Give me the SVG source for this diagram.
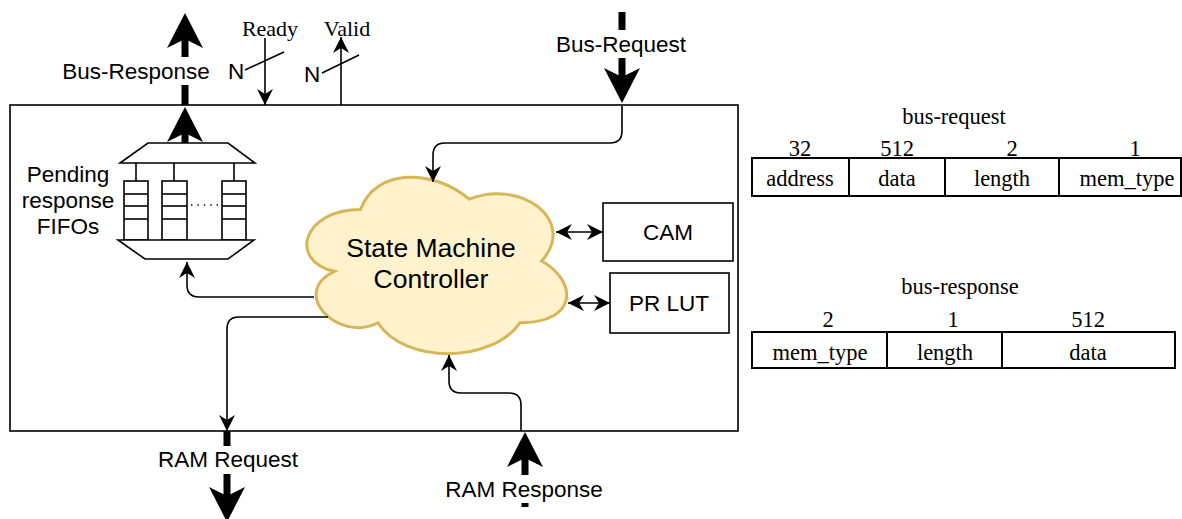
<svg xmlns="http://www.w3.org/2000/svg" width="1182" height="519" viewBox="0 0 1182 519">
  <style>
    .sans { font-family: "Liberation Sans", Arial, sans-serif; font-size: 22.5px; fill: #000; text-anchor: middle; }
    .serif { font-family: "Liberation Serif", "Times New Roman", serif; font-size: 22.5px; fill: #000; text-anchor: middle; }
    .box { fill: #fff; stroke: #000; stroke-width: 1.6; }
    .thin { fill: none; stroke: #000; stroke-width: 1.6; }
    .thick { fill: none; stroke: #000; stroke-width: 7; }
    .bg { fill: #fff; stroke: none; }
    .cell { fill: #fff; stroke: #000; stroke-width: 2; }
  </style>
  <defs>
    <!-- large notched arrowhead for the bus / RAM ports -->
    <marker id="bigHead" viewBox="-36 -18 36 36" markerWidth="36" markerHeight="36" refX="-26" refY="0" markerUnits="userSpaceOnUse" orient="auto">
      <path d="M0,0 L-35,-18 L-26,0 L-35,18 Z" fill="#000"/>
    </marker>
    <!-- small notched arrowhead for internal signals -->
    <marker id="smallHead" viewBox="-16 -8 16 16" markerWidth="16" markerHeight="16" refX="0" refY="0" markerUnits="userSpaceOnUse" orient="auto-start-reverse">
      <path d="M0,0 L-16,-8 L-11,0 L-16,8 Z" fill="#000"/>
    </marker>
  </defs>

  <!-- controller enclosure -->
  <g id="controller-box">
    <rect class="box" x="10" y="105" width="728" height="326"/>
  </g>

  <!-- pending response FIFOs -->
  <g id="fifos">
    <polygon class="box" points="148,143 228,143 255,163 120,163"/>
    <line class="thin" x1="136" y1="163" x2="136" y2="181"/>
    <line class="thin" x1="174" y1="163" x2="174" y2="181"/>
    <line class="thin" x1="234" y1="163" x2="234" y2="181"/>
    <g class="thin">
      <rect x="124" y="181" width="24" height="59"/>
      <line x1="124" y1="194" x2="148" y2="194"/>
      <line x1="124" y1="206" x2="148" y2="206"/>
      <line x1="124" y1="219" x2="148" y2="219"/>
      <rect x="162" y="181" width="25" height="59"/>
      <line x1="162" y1="194" x2="187" y2="194"/>
      <line x1="162" y1="206" x2="187" y2="206"/>
      <line x1="162" y1="219" x2="187" y2="219"/>
      <rect x="222" y="181" width="24" height="59"/>
      <line x1="222" y1="194" x2="246" y2="194"/>
      <line x1="222" y1="206" x2="246" y2="206"/>
      <line x1="222" y1="219" x2="246" y2="219"/>
    </g>
    <line x1="191" y1="205" x2="220" y2="205" stroke="#000" stroke-width="1.4" stroke-dasharray="1.4 5"/>
    <polygon class="box" points="118,240 254,240 228,259 145,259"/>
    <text class="sans" x="68" y="182">Pending</text>
    <text class="sans" x="68" y="208">response</text>
    <text class="sans" x="68" y="234">FIFOs</text>
  </g>

  <!-- state machine controller -->
  <g id="state-machine">
    <path d="M360.5,209.5 C302.5,209.5 288,261 334.4,271.3 C288,294 340.2,343.4 377.9,322.8 C404,364 491,364 520,322.8 C578,322.8 578,281.6 541.75,261 C578,219.8 520,178.6 469.25,199.2 C433,168.3 375,168.3 360.5,209.5 Z" fill="#fff2cc" stroke="#d6b656" stroke-width="3"/>
    <text class="sans" style="font-size:26.5px" x="431" y="257">State Machine</text>
    <text class="sans" style="font-size:26.5px" x="431" y="288">Controller</text>
  </g>

  <!-- CAM -->
  <g id="cam">
    <rect class="box" x="603" y="203" width="130" height="58"/>
    <text class="sans" x="668" y="240">CAM</text>
  </g>

  <!-- PR LUT -->
  <g id="pr-lut">
    <rect class="box" x="610" y="273" width="119" height="60"/>
    <text class="sans" x="669" y="311">PR LUT</text>
  </g>

  <!-- packet formats -->
  <g id="bus-request-format">
    <text class="serif" x="954" y="124">bus-request</text>
    <text class="serif" x="800" y="156">32</text>
    <text class="serif" x="897" y="156">512</text>
    <text class="serif" x="1012" y="156">2</text>
    <text class="serif" x="1135" y="156">1</text>
    <rect class="cell" x="752" y="158" width="97" height="38"/>
    <rect class="cell" x="849" y="158" width="96" height="38"/>
    <rect class="cell" x="945" y="158" width="114" height="38"/>
    <rect class="cell" x="1059" y="158" width="122" height="38"/>
    <text class="serif" x="800" y="186">address</text>
    <text class="serif" x="897" y="186">data</text>
    <text class="serif" x="1002" y="186">length</text>
    <text class="serif" x="1127" y="186">mem_type</text>
  </g>

  <g id="bus-response-format">
    <text class="serif" x="960" y="294">bus-response</text>
    <text class="serif" x="828" y="327">2</text>
    <text class="serif" x="953" y="327">1</text>
    <text class="serif" x="1088" y="327">512</text>
    <rect class="cell" x="752" y="332" width="135" height="36"/>
    <rect class="cell" x="887" y="332" width="115" height="36"/>
    <rect class="cell" x="1002" y="332" width="173" height="36"/>
    <text class="serif" x="820" y="360">mem_type</text>
    <text class="serif" x="945" y="360">length</text>
    <text class="serif" x="1088" y="360">data</text>
  </g>

  <!-- connectors -->
  <g id="connectors">
    <!-- external bus ports -->
    <line class="thick" x1="185" y1="105" x2="185" y2="39" marker-end="url(#bigHead)"/>
    <rect class="bg" x="60" y="57" width="153" height="28"/>
    <text class="sans" x="136" y="79">Bus-Response</text>

    <line class="thick" x1="185" y1="143" x2="185" y2="133" marker-end="url(#bigHead)"/>

    <line class="thick" x1="622" y1="12" x2="622" y2="77" marker-end="url(#bigHead)"/>
    <rect class="bg" x="550" y="30" width="142" height="28"/>
    <text class="sans" x="621" y="52">Bus-Request</text>

    <line class="thick" x1="227" y1="431" x2="227" y2="496" marker-end="url(#bigHead)"/>
    <rect class="bg" x="154" y="446" width="148" height="28"/>
    <text class="sans" x="228" y="467">RAM Request</text>

    <line class="thick" x1="525" y1="507" x2="525" y2="458" marker-end="url(#bigHead)"/>
    <rect class="bg" x="441" y="475" width="166" height="28"/>
    <text class="sans" x="524" y="497">RAM Response</text>

    <!-- handshake signals -->
    <line class="thin" x1="265" y1="38" x2="265" y2="105" marker-end="url(#smallHead)"/>
    <line class="thin" x1="245" y1="70" x2="284" y2="52"/>
    <text class="sans" x="236" y="79">N</text>
    <text class="serif" style="font-size:22px" x="270" y="36">Ready</text>

    <line class="thin" x1="341" y1="105" x2="341" y2="37" marker-end="url(#smallHead)"/>
    <line class="thin" x1="322" y1="73" x2="359" y2="55"/>
    <text class="sans" x="312" y="82">N</text>
    <text class="serif" style="font-size:22px" x="347" y="36">Valid</text>

    <!-- internal paths -->
    <path class="thin" d="M622,106 L622,131 Q622,143 610,143 L445,143 Q433,143 433,155 L433,182" marker-end="url(#smallHead)"/>
    <path class="thin" d="M314,297 L199,297 Q187,297 187,285 L187,262" marker-end="url(#smallHead)"/>
    <path class="thin" d="M328,317 L239,317 Q227,317 227,329 L227,431" marker-end="url(#smallHead)"/>
    <path class="thin" d="M521,431 L521,405 Q521,393 509,393 L461,393 Q449,393 449,381 L449,355" marker-end="url(#smallHead)"/>
    <line class="thin" x1="556" y1="232" x2="603" y2="232" marker-start="url(#smallHead)" marker-end="url(#smallHead)"/>
    <line class="thin" x1="568" y1="303" x2="610" y2="303" marker-start="url(#smallHead)" marker-end="url(#smallHead)"/>
  </g>
</svg>
